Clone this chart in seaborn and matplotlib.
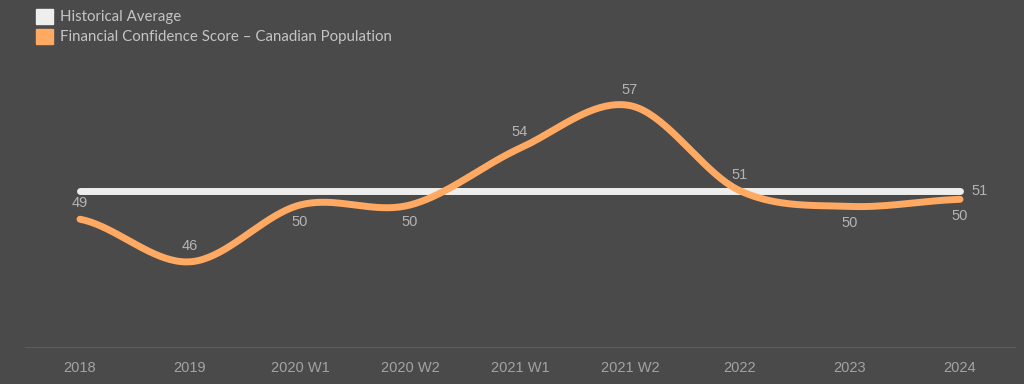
import numpy as np
import pandas as pd
import matplotlib
matplotlib.use("Agg")
import matplotlib.pyplot as plt
import seaborn as sns
from matplotlib.patches import Patch

categories = ["2018", "2019", "2020 W1", "2020 W2", "2021 W1", "2021 W2", "2022", "2023", "2024"]
score = [49, 46, 50, 50, 54, 57, 51, 49.9, 50.4]
historical_avg = [51] * 9
score_name = "Financial Confidence Score \u2013 Canadian Population"
avg_name = "Historical Average"
label_pos = ["above", "above", "below", "below", "above", "above", "above", "below", "below"]

BG = "#4a4a4a"
ORANGE = "#ffa963"
WHITE = "#eeeeec"
LABEL = "#b4b4b4"

sns.set_theme(style="dark")
plt.rcParams["font.family"] = ["Liberation Sans", "DejaVu Sans"]

fig = plt.figure(figsize=(10.24, 3.84), dpi=100, facecolor=BG)
ax = fig.add_axes([25 / 1024, 1 - 347 / 384, 990 / 1024, (347 - 63) / 384])
ax.set_facecolor(BG)


def catmull_rom(y, n=40):
    y = np.asarray(y, float)
    x = np.arange(len(y), dtype=float)
    xs, ys = [], []
    p = np.concatenate([[y[0]], y, [y[-1]]])
    for i in range(len(y) - 1):
        p0, p1, p2, p3 = p[i], p[i + 1], p[i + 2], p[i + 3]
        t = np.linspace(0, 1, n, endpoint=False)
        yy = 0.5 * ((2 * p1) + (-p0 + p2) * t + (2 * p0 - 5 * p1 + 4 * p2 - p3) * t ** 2
                    + (-p0 + 3 * p1 - 3 * p2 + p3) * t ** 3)
        xs.append(x[i] + t)
        ys.append(yy)
    xs.append([x[-1]])
    ys.append([y[-1]])
    return np.concatenate(xs), np.concatenate(ys)


xi = np.arange(len(categories))
sx, sy = catmull_rom(score)
df_s = pd.DataFrame({"x": sx, "y": sy})
df_a = pd.DataFrame({"x": xi, "y": historical_avg})

sns.lineplot(data=df_a, x="x", y="y", ax=ax, color=WHITE, linewidth=5,
             solid_capstyle="round", zorder=3)
sns.lineplot(data=df_s, x="x", y="y", ax=ax, color=ORANGE, linewidth=5,
             solid_capstyle="round", zorder=4)

for i, (v, pos) in enumerate(zip(score, label_pos)):
    off = 11.5 if pos == "above" else -12
    ax.annotate(f"{v:.0f}", (i, v), xytext=(0, off), textcoords="offset points",
                ha="center", va="center", color=LABEL, fontsize=10.5, zorder=5)
ax.annotate(f"{historical_avg[-1]:.0f}", (len(categories) - 1, historical_avg[-1]),
            xytext=(14, 0), textcoords="offset points", ha="center", va="center",
            color=LABEL, fontsize=10.5, zorder=5)

ax.set_xlim(-0.5, len(categories) - 0.5)
ax.set_ylim(40, 60)
ax.set_xticks(xi)
ax.set_xticklabels(categories, fontfamily=["Liberation Sans Narrow", "Liberation Sans", "DejaVu Sans"])
ax.set_yticks([])
ax.set_xlabel("")
ax.set_ylabel("")
ax.tick_params(axis="x", colors="#a3a3a3", labelsize=10.5, length=0, pad=10)
ax.grid(False)
for s in ["top", "right", "left"]:
    ax.spines[s].set_visible(False)
ax.spines["bottom"].set_color("#5c5c5c")
ax.spines["bottom"].set_linewidth(0.8)

handles = [Patch(facecolor=WHITE, edgecolor=WHITE), Patch(facecolor=ORANGE, edgecolor=ORANGE)]
leg = fig.legend(handles, [avg_name, score_name], loc="upper left",
                 bbox_to_anchor=(22 / 1024, 1.012), frameon=False,
                 handlelength=1.15, handleheight=1.15, handletextpad=0.45,
                 labelspacing=0.3, labelcolor="#c4c4c4",
                 prop={"family": ["Lato", "DejaVu Sans"], "size": 10.8})

fig.savefig("out.png", dpi=100, facecolor=BG)
